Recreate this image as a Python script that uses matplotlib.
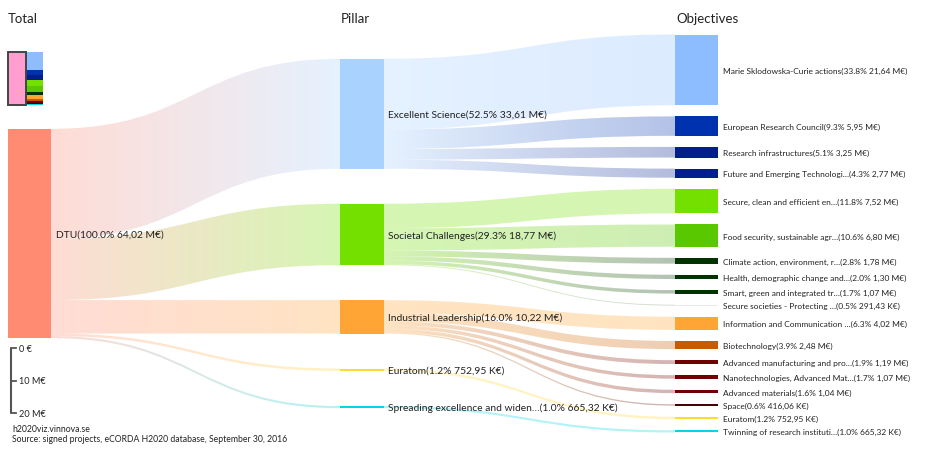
import matplotlib
matplotlib.use("Agg")
import matplotlib.pyplot as plt
import numpy as np
from matplotlib.path import Path
from matplotlib.patches import PathPatch, Rectangle
from matplotlib.colors import to_rgb

plt.rcParams['font.family'] = ['Lato', 'DejaVu Sans']

# ---------------- data ----------------
total_name = "DTU"
total_value = 64.02  # M€
total_color = "#ff8b73"

pillar_names = ["Excellent Science", "Societal Challenges", "Industrial Leadership",
                "Euratom", "Spreading excellence and widen\u2026"]
pillar_values = [33.61, 18.77, 10.22, 0.75295, 0.66532]
pillar_pcts = ["52.5%", "29.3%", "16.0%", "1.2%", "1.0%"]
pillar_colors = ["#a9d2ff", "#74e000", "#ffa535", "#ffd83a", "#00d8e0"]

objective_names = [
    "Marie Sklodowska-Curie actions", "European Research Council",
    "Research infrastructures", "Future and Emerging Technologi\u2026",
    "Secure, clean and efficient en\u2026", "Food security, sustainable agr\u2026",
    "Climate action, environment, r\u2026", "Health, demographic change and\u2026",
    "Smart, green and integrated tr\u2026", "Secure societies - Protecting \u2026",
    "Information and Communication \u2026", "Biotechnology",
    "Advanced manufacturing and pro\u2026", "Nanotechnologies, Advanced Mat\u2026",
    "Advanced materials", "Space", "Euratom", "Twinning of research instituti\u2026"]
objective_values = [21.64, 5.95, 3.25, 2.77,
                    7.52, 6.80, 1.78, 1.30, 1.07, 0.29143,
                    4.02, 2.48, 1.19, 1.07, 1.04, 0.41606,
                    0.75295, 0.66532]
objective_pcts = ["33.8%", "9.3%", "5.1%", "4.3%",
                  "11.8%", "10.6%", "2.8%", "2.0%", "1.7%", "0.5%",
                  "6.3%", "3.9%", "1.9%", "1.7%", "1.6%", "0.6%",
                  "1.2%", "1.0%"]
objective_parent = [0, 0, 0, 0, 1, 1, 1, 1, 1, 1, 2, 2, 2, 2, 2, 2, 3, 4]
objective_colors = ["#8dbdff", "#0032b0", "#001e8c", "#001e8c",
                    "#74e000", "#5ac800", "#003300", "#003300", "#003300", "#e4ebe4",
                    "#ffa535", "#c85a00", "#6e0000", "#6e0000", "#6e0000", "#4a0000",
                    "#ffd83a", "#00d8e0"]

scale_ticks = [0, 10, 20]
scale_labels = ["0 \u20ac", "10 M\u20ac", "20 M\u20ac"]

# ---------------- layout ----------------
W, H = 949, 469
PX = 3.27          # pixels per M€
CY = 233.5         # vertical centre of columns
NODE_W = 43
X_TOT, X_PIL, X_OBJ = 8, 340, 675
LINK_ALPHA = 0.3
TXT = "#222222"


def fmt_amount(v):
    if v >= 1:
        return f"{v:.2f}".replace(".", ",") + " M\u20ac"
    return f"{v * 1000:.2f}".replace(".", ",") + " K\u20ac"


def stack(values, gap):
    hs = [v * PX for v in values]
    tot = sum(hs) + gap * (len(hs) - 1)
    y = CY - tot / 2
    tops = []
    for h in hs:
        tops.append(y)
        y += h + gap
    return tops, hs


fig = plt.figure(figsize=(W / 100, H / 100), dpi=100)
ax = fig.add_axes([0, 0, 1, 1])
ax.set_xlim(0, W)
ax.set_ylim(H, 0)
ax.axis("off")

tot_tops, tot_hs = stack([total_value], 0)
pil_tops, pil_hs = stack(pillar_values, 35)
obj_tops, obj_hs = stack(objective_values, 11.1)


def draw_link(x0, y0t, y0b, x1, y1t, y1b, c0, c1):
    xm = (x0 + x1) / 2
    verts = [(x0, y0t), (xm, y0t), (xm, y1t), (x1, y1t),
             (x1, y1b), (xm, y1b), (xm, y0b), (x0, y0b), (x0, y0t)]
    codes = [Path.MOVETO, Path.CURVE4, Path.CURVE4, Path.CURVE4,
             Path.LINETO, Path.CURVE4, Path.CURVE4, Path.CURVE4, Path.CLOSEPOLY]
    patch = PathPatch(Path(verts, codes), facecolor="none", edgecolor="none")
    ax.add_patch(patch)
    n = 256
    t = np.linspace(0, 1, n)[:, None]
    a, b = np.array(to_rgb(c0)), np.array(to_rgb(c1))
    rgb = a * (1 - t) + b * t
    rgba = np.concatenate([rgb, np.full((n, 1), LINK_ALPHA)], axis=1)[None, :, :]
    ymin = min(y0t, y1t) - 1
    ymax = max(y0b, y1b) + 1
    im = ax.imshow(rgba, extent=(x0, x1, ymax, ymin), aspect="auto",
                   interpolation="bilinear", zorder=1)
    im.set_clip_path(patch)


# Total -> pillars
off = tot_tops[0]
for i, v in enumerate(pillar_values):
    h = v * PX
    draw_link(X_TOT + NODE_W, off, off + h, X_PIL, pil_tops[i], pil_tops[i] + h,
              total_color, pillar_colors[i])
    off += h

# pillars -> objectives
pil_off = list(pil_tops)
for j, v in enumerate(objective_values):
    p = objective_parent[j]
    h = v * PX
    c1 = objective_colors[j] if j != 9 else "#738c73"
    draw_link(X_PIL + NODE_W, pil_off[p], pil_off[p] + h, X_OBJ, obj_tops[j], obj_tops[j] + h,
              pillar_colors[p], c1)
    pil_off[p] += h

# nodes
ax.add_patch(Rectangle((X_TOT, tot_tops[0]), NODE_W, tot_hs[0], color=total_color, lw=0, zorder=2))
for i in range(len(pillar_values)):
    ax.add_patch(Rectangle((X_PIL, pil_tops[i]), NODE_W + 1, max(pil_hs[i], 0.8),
                           color=pillar_colors[i], lw=0, zorder=2))
for j in range(len(objective_values)):
    ax.add_patch(Rectangle((X_OBJ, obj_tops[j]), NODE_W, max(obj_hs[j], 0.8),
                           color=objective_colors[j], lw=0, zorder=2))

# labels
ax.text(X_TOT + NODE_W + 5, tot_tops[0] + tot_hs[0] / 2 + 1.5,
        f"{total_name}(100.0% {fmt_amount(total_value)})",
        fontsize=7.4, va="center", ha="left", color=TXT, zorder=3)
for i, name in enumerate(pillar_names):
    ax.text(X_PIL + NODE_W + 5, pil_tops[i] + pil_hs[i] / 2 + 1.5,
            f"{name}({pillar_pcts[i]} {fmt_amount(pillar_values[i])})",
            fontsize=7.4, va="center", ha="left", color=TXT, zorder=3)
for j, name in enumerate(objective_names):
    ax.text(X_OBJ + NODE_W + 5, obj_tops[j] + obj_hs[j] / 2 + 1.5,
            f"{name}({objective_pcts[j]} {fmt_amount(objective_values[j])})",
            fontsize=6.05, va="center", ha="left", color=TXT, zorder=3)

# column titles
for x, t in [(X_TOT, "Total"), (X_PIL + 1, "Pillar"), (X_OBJ + 1, "Objectives")]:
    ax.text(x, 19, t, fontsize=9.5, va="center", ha="left", color=TXT)

# mini legend (top-left)
ax.add_patch(Rectangle((8.5, 52), 17.5, 53, facecolor="#ff9ecf",
                       edgecolor="#444444", lw=1.4, zorder=3))
mini_scale = 53 / total_value
y = 52
for j, v in enumerate(objective_values):
    h = v * mini_scale
    ax.add_patch(Rectangle((26.5, y), 17, h, color=objective_colors[j], lw=0, zorder=2))
    y += h

# scale bar
y0 = 348
ax.plot([11, 11], [y0, y0 + scale_ticks[-1] * PX], color="#555555", lw=1.5,
        solid_capstyle="butt")
for v, lab in zip(scale_ticks, scale_labels):
    yy = y0 + v * PX
    ax.plot([11, 16], [yy, yy], color="#555555", lw=1.3)
    ax.text(19, yy + 1, lab, fontsize=6.6, va="center", ha="left", color=TXT)

# footer
ax.text(12, 430, "h2020viz.vinnova.se", fontsize=6.2, va="center", ha="left", color=TXT)
ax.text(12, 440, "Source: signed projects, eCORDA H2020 database, September 30, 2016",
        fontsize=6.2, va="center", ha="left", color=TXT)

fig.savefig("out.png", dpi=100)
